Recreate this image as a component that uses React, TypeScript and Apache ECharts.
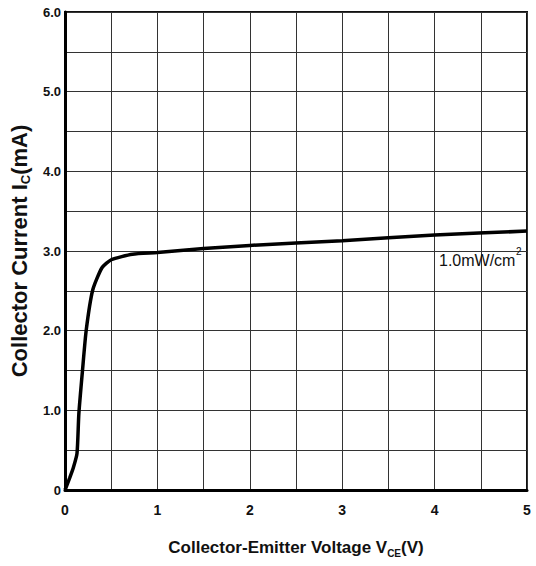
import React, { useEffect, useRef } from "react";
import * as echarts from "echarts";

const voltage = [0, 0.05, 0.09, 0.13, 0.15, 0.19, 0.23, 0.3, 0.4, 0.5, 0.73, 1.0, 1.5, 2.0, 3.0, 4.0, 5.0];
const current = [0, 0.15, 0.28, 0.46, 0.96, 1.51, 2.01, 2.51, 2.79, 2.89, 2.96, 2.98, 3.03, 3.07, 3.13, 3.2, 3.25];
const xTickLabels = ["0", "1", "2", "3", "4", "5"];
const yTickLabels = ["0", "1.0", "2.0", "3.0", "4.0", "5.0", "6.0"];
const curveLabel = "1.0mW/cm";
const curveLabelSup = "2";

export default function App() {
  const ref = useRef<HTMLDivElement>(null);
  useEffect(() => {
    document.body.style.margin = "0";
    const chart = echarts.init(ref.current!, null, { renderer: "svg" });
    const font = "Liberation Sans, Arial, sans-serif";
    chart.setOption({
      animation: false,
      backgroundColor: "#fff",
      grid: {
        left: 62,
        right: 9,
        top: 12,
        bottom: 76,
        show: true,
        borderColor: "#111",
        borderWidth: 2,
      },
      xAxis: {
        type: "value",
        min: 0,
        max: 5,
        interval: 0.5,
        name: "{a|Collector-Emitter Voltage V}{s|CE}{a|(V)}",
        nameLocation: "middle",
        nameGap: 47,
        nameTextStyle: {
          rich: {
            a: { fontFamily: font, fontWeight: "bold", fontSize: 17, color: "#111" },
            s: { fontFamily: font, fontWeight: "bold", fontSize: 10, color: "#111", verticalAlign: "bottom", padding: [11, 0, 0, 0] },
          },
        },
        axisLine: { show: true, lineStyle: { color: "#000", width: 3 } },
        axisTick: { show: false },
        splitLine: { show: true, lineStyle: { color: "#333", width: 1 } },
        axisLabel: {
          margin: 13,
          fontFamily: font,
          fontWeight: "bold",
          fontSize: 14,
          color: "#111",
          formatter: (v: number) => (Number.isInteger(v) ? xTickLabels[v] : ""),
        },
      },
      yAxis: {
        type: "value",
        min: 0,
        max: 6,
        interval: 0.5,
        name: "{a|Collector Current I}{s|C}{a|(mA)}",
        nameLocation: "middle",
        nameRotate: 90,
        nameGap: 33,
        nameTextStyle: {
          rich: {
            a: { fontFamily: font, fontWeight: "bold", fontSize: 22, color: "#111" },
            s: { fontFamily: font, fontWeight: "bold", fontSize: 13, color: "#111", verticalAlign: "bottom", padding: [13, 0, 0, 0] },
          },
        },
        axisLine: { show: true, lineStyle: { color: "#000", width: 3 } },
        axisTick: { show: false },
        splitLine: { show: true, lineStyle: { color: "#333", width: 1 } },
        axisLabel: {
          margin: 4,
          fontFamily: font,
          fontWeight: "bold",
          fontSize: 13,
          color: "#111",
          formatter: (v: number) => (Number.isInteger(v) ? yTickLabels[v] : ""),
        },
      },
      series: [
        {
          type: "line",
          data: voltage.map((v, i) => [v, current[i]]),
          showSymbol: false,
          smooth: 0.2,
          lineStyle: { color: "#000", width: 3.5 },
          z: 5,
        },
      ],
      graphic: [
        {
          type: "text",
          x: 439,
          y: 252,
          z: 10,
          style: {
            text: curveLabel,
            font: "16px 'Liberation Sans', Arial, sans-serif",
            fill: "#111",
          },
        },
        {
          type: "text",
          x: 516,
          y: 246,
          z: 10,
          style: {
            text: curveLabelSup,
            font: "10px 'Liberation Sans', Arial, sans-serif",
            fill: "#111",
          },
        },
      ],
    });
    return () => chart.dispose();
  }, []);
  return <div ref={ref} style={{ width: 536, height: 566 }} />;
}
